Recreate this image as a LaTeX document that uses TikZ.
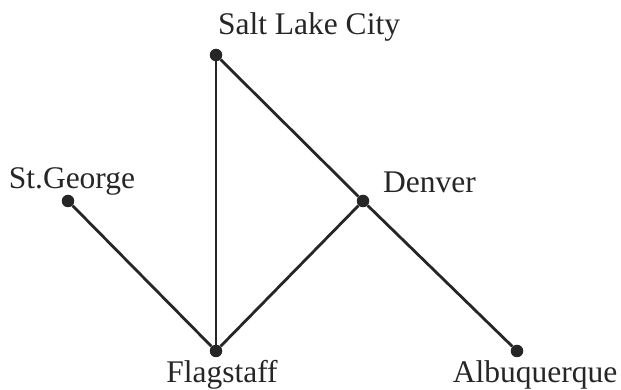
\documentclass[tikz,border=0pt]{standalone}
\usepackage{fontspec}
\setmainfont{Liberation Serif}
\begin{document}
\begin{tikzpicture}[x=1pt,y=1pt,
  city/.style={circle,fill=black!85,inner sep=0pt,minimum size=12.5pt},
  lbl/.style={inner sep=0pt,anchor=base,font=\fontsize{31.5}{36}\selectfont,text=black!85},
  edge/.style={line width=2.8pt,draw=black!85}]
\useasboundingbox (0,0) rectangle (621,390);
\node[city] (slc) at (216,335) {};
\node[city] (stg) at (68,189) {};
\node[city] (den) at (363,189) {};
\node[city] (fla) at (216,39) {};
\node[city] (alb) at (517,39) {};
\node[lbl] (lslc) at (309,355) {Salt Lake City};
\node[lbl] (lstg) at (72,201) {St.George};
\node[lbl,anchor=base west] (lden) at (383,197) {Denver};
\node[lbl] (lfla) at (222,7) {Flagstaff};
\node[lbl] (lalb) at (535,7) {Albuquerque};
\draw[edge] (slc) -- (fla);
\draw[edge] (slc) -- (den);
\draw[edge] (den) -- (alb);
\draw[edge] (stg) -- (fla);
\draw[edge] (fla) -- (den);
\end{tikzpicture}
\end{document}
